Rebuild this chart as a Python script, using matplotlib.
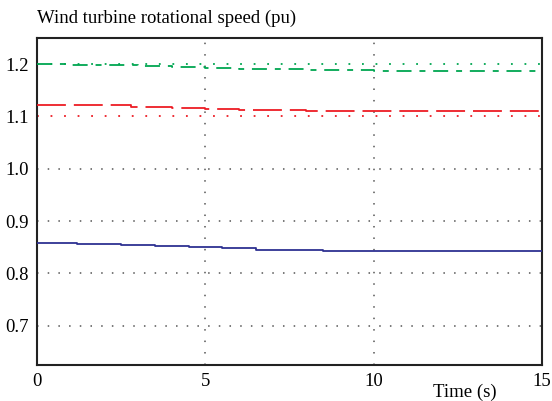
import matplotlib.pyplot as plt

# Reference (command) values
ref_green = 1.2
ref_red = 1.1

# Green dash-dot series
t_green = [0, 1, 2, 3, 4, 5, 6, 7, 8, 9, 10, 15]
w_green = [1.200, 1.199, 1.198, 1.196, 1.195, 1.193, 1.191, 1.190, 1.189, 1.188, 1.187, 1.187]

# Red dashed series
t_red = [0, 1.5, 2.8, 4, 5, 6, 7, 8, 9, 10, 15]
w_red = [1.121, 1.121, 1.119, 1.117, 1.115, 1.113, 1.112, 1.111, 1.110, 1.110, 1.110]

# Blue solid series
t_blue = [0, 1.2, 2.5, 3.5, 4.5, 5.5, 6.5, 7.5, 8.5, 15]
w_blue = [0.858, 0.857, 0.855, 0.852, 0.850, 0.848, 0.845, 0.844, 0.842, 0.842]

plt.rcParams['font.family'] = ['Liberation Serif', 'DejaVu Serif']

fig = plt.figure(figsize=(5.52, 4.01), dpi=100)
ax = fig.add_axes([37 / 552, 1 - 365 / 401, 505 / 552, 327 / 401])

# gray dotted grid
for x in [5, 10]:
    ax.axvline(x, color='#555555', linestyle=(0, (1, 6.5)), linewidth=1.1, zorder=1)
for y in [0.7, 0.8, 0.9, 1.0]:
    ax.axhline(y, color='#555555', linestyle=(0, (1, 6)), linewidth=1.1, zorder=1)

ax.axhline(ref_green, color='#00a651', linestyle=(0, (1, 6.5)), linewidth=1.3, zorder=2)
ax.axhline(ref_red, color='#ed1c24', linestyle=(0, (1, 6.5)), linewidth=1.3, zorder=2)

ax.plot(t_green, w_green, color='#00a651', linestyle=(0, (8.3, 4.4, 3.3, 4.3)), linewidth=1.3,
        drawstyle='steps-post', zorder=3)
ax.plot(t_red, w_red, color='#ed1c24', linestyle=(0, (16, 4.4)), linewidth=1.3,
        drawstyle='steps-post', zorder=3)
ax.plot(t_blue, w_blue, color='#2e3192', linewidth=1.3, drawstyle='steps-post', zorder=3)

ax.set_xlim(0, 15)
ax.set_ylim(0.625, 1.25)
ax.set_xticks([0, 5, 10, 15])
ax.set_yticks([0.7, 0.8, 0.9, 1.0, 1.1, 1.2])
ax.set_yticklabels(['0.7', '0.8', '0.9', '1.0', '1.1', '1.2'])
ax.tick_params(length=0, labelsize=13.5, pad=6)
for s in ax.spines.values():
    s.set_linewidth(1.5)
    s.set_color('#222222')

fig.text(37 / 552, 1 - 18 / 401, 'Wind turbine rotational speed (pu)', fontsize=13.5, ha='left', va='center')
fig.text(465 / 552, 1 - 392 / 401, 'Time (s)', fontsize=13.5, ha='center', va='center')

fig.savefig('out.png', dpi=100)
